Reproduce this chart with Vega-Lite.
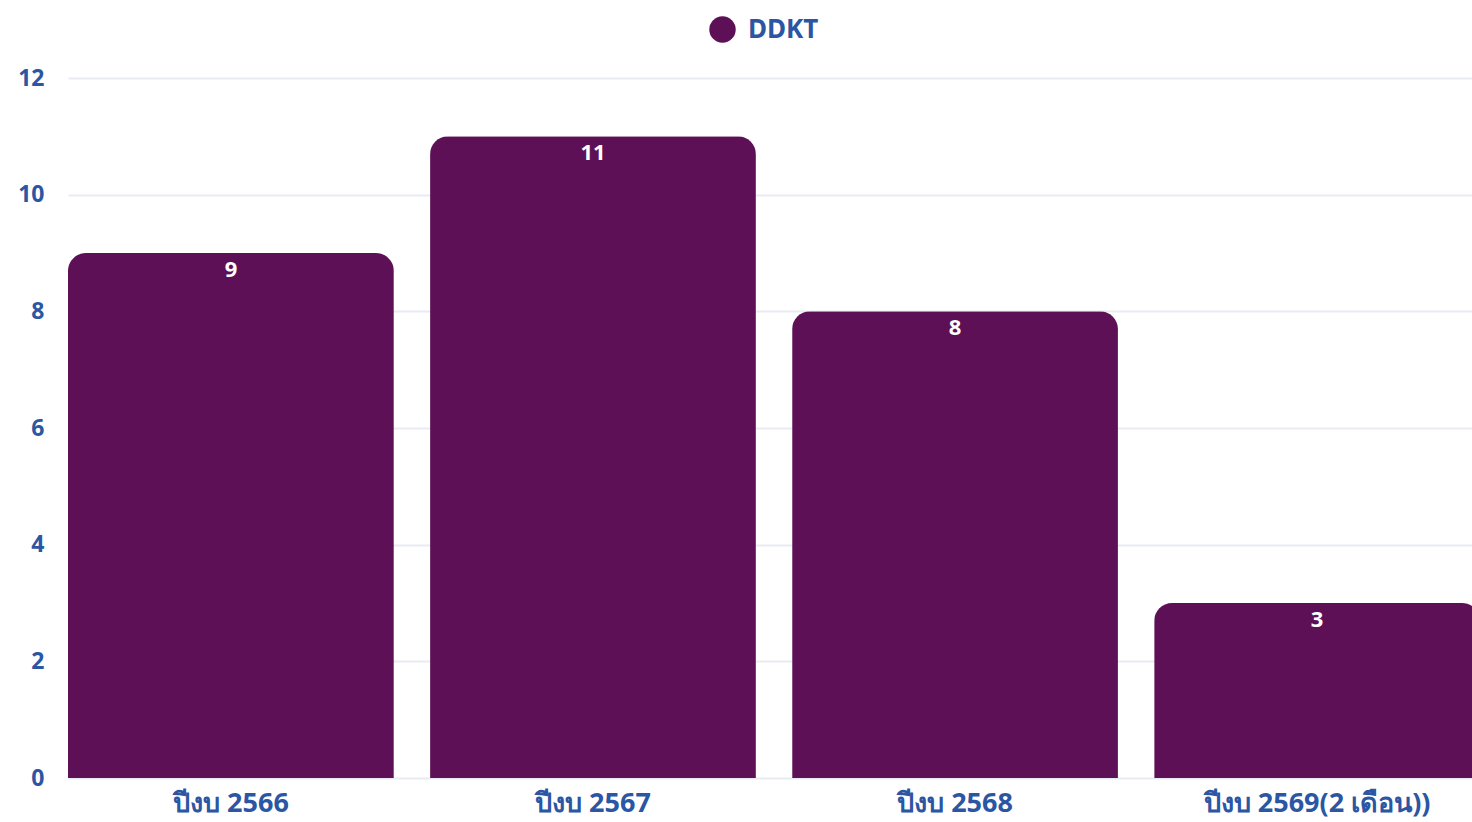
{
  "$schema": "https://vega.github.io/schema/vega-lite/v6.json",
  "autosize": {"type": "none"},
  "width": 1412,
  "height": 700,
  "padding": {"left": 68, "top": 78, "right": 0, "bottom": 44},
  "background": "white",
  "data": {"values": [
    {"year": "ปีงบ 2566", "value": 9, "series": "DDKT"},
    {"year": "ปีงบ 2567", "value": 11, "series": "DDKT"},
    {"year": "ปีงบ 2568", "value": 8, "series": "DDKT"},
    {"year": "ปีงบ 2569(2 เดือน))", "value": 3, "series": "DDKT"}
  ]},
  "config": {
    "view": {"stroke": null},
    "font": "Noto Sans",
    "axis": {"labelFont": "Noto Sans", "labelFontWeight": "bold", "labelColor": "#2b56a3", "domain": false, "ticks": false, "title": null}
  },
  "encoding": {
    "x": {"field": "year", "type": "nominal", "sort": null,
      "scale": {"paddingInner": 0.1, "paddingOuter": 0},
      "axis": {"labelAngle": 0, "labelFontSize": 27, "labelPadding": 12, "labelLimit": 0, "grid": false}},
    "y": {"field": "value", "type": "quantitative",
      "scale": {"domain": [0, 12]},
      "axis": {"values": [0, 2, 4, 6, 8, 10, 12], "labelFontSize": 23, "labelPadding": 24, "gridColor": "#e9ebf2", "gridWidth": 2}}
  },
  "layer": [
    {
      "mark": {"type": "bar", "cornerRadiusTopLeft": 18, "cornerRadiusTopRight": 18},
      "encoding": {
        "color": {"field": "series", "type": "nominal",
          "scale": {"range": ["#5e1056"]},
          "legend": {"title": null, "orient": "none", "legendX": 641, "legendY": -62, "direction": "horizontal",
            "symbolType": "circle", "symbolSize": 700, "symbolStrokeWidth": 0, "labelFontSize": 26, "labelFontWeight": "bold", "labelColor": "#2b56a3", "labelFont": "Noto Sans", "labelOffset": 12}}
      }
    },
    {
      "mark": {"type": "text", "color": "white", "fontWeight": "bold", "fontSize": 22, "baseline": "middle", "dy": 17},
      "encoding": {"text": {"field": "value", "type": "quantitative"}}
    }
  ]
}
